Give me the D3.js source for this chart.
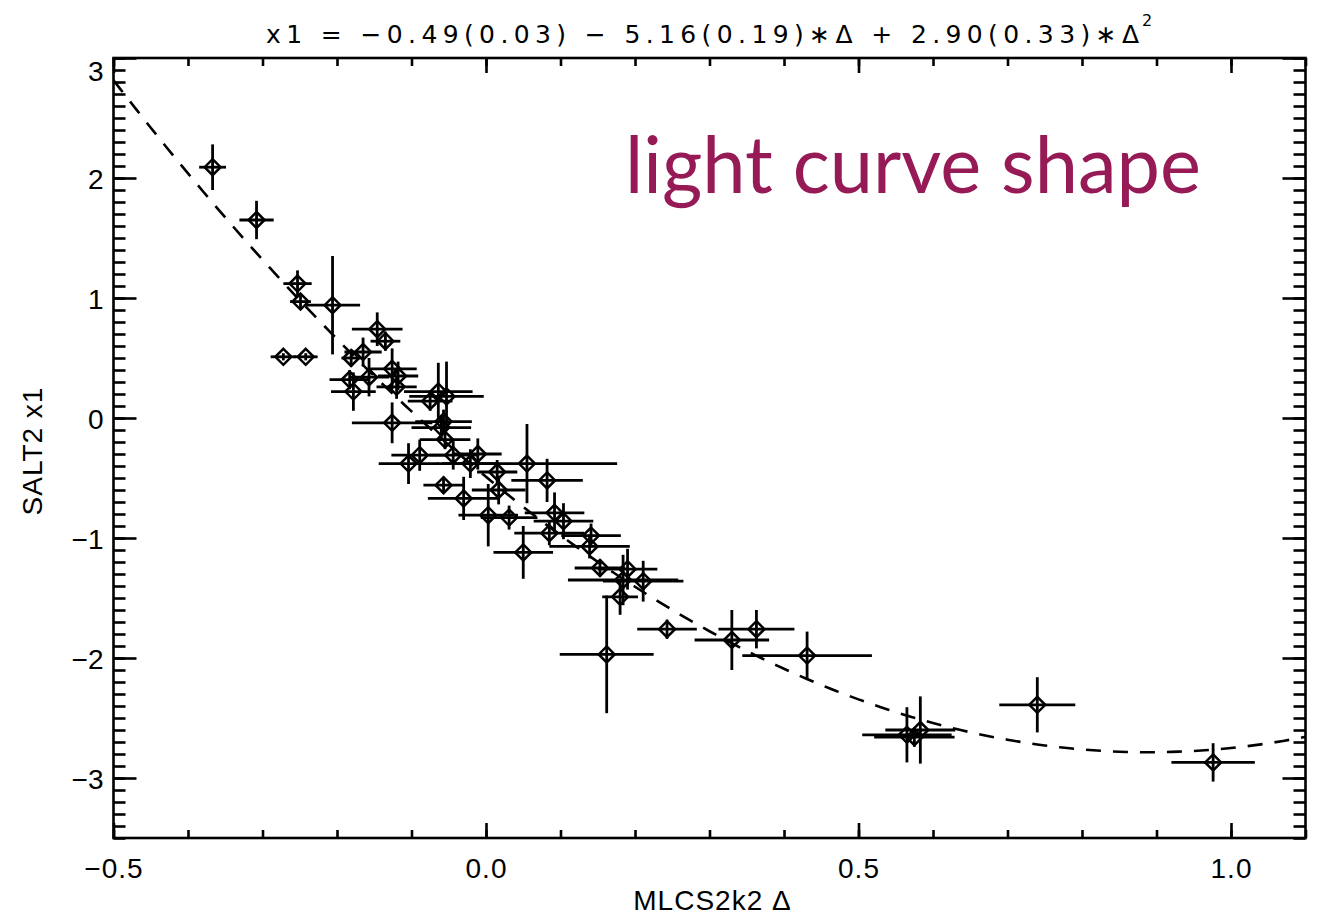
<!DOCTYPE html>
<html lang="en">
<head>
  <meta charset="UTF-8">
  <title>SALT2 x1 vs MLCS2k2 Delta</title>
  <style>
    body { margin: 0; background: #fff; }
    svg { display: block; }
    .frame, .tick line { stroke: #000; stroke-width: 2.6; }
    text { font-family: "Liberation Sans", "DejaVu Sans", sans-serif; fill: #000; }
  </style>
</head>
<body>
  <svg id="chart" width="1325" height="916"></svg>

  <script src="https://d3js.org/d3.v7.min.js"></script>
  <script>
    // MLCS2k2 delta for each SN
    const deltaVals = [
      -0.367, -0.308, -0.253, -0.249, -0.206, -0.272, -0.242, -0.146, -0.135, -0.165,
      -0.181, -0.126, -0.118, -0.157, -0.183, -0.178, -0.120, -0.064, -0.053, -0.075,
      -0.126, -0.057, -0.060, -0.055, -0.044, -0.011, -0.021, -0.089, -0.104, -0.057,
      -0.030, 0.003, 0.015, 0.017, 0.031, 0.055, 0.082, 0.050, 0.092, 0.104,
      0.085, 0.141, 0.139, 0.153, 0.190, 0.184, 0.211, 0.180, 0.243, 0.162,
      0.330, 0.363, 0.431, 0.565, 0.575, 0.583, 0.740, 0.976
    ];
    // SALT2 x1
    const x1Vals = [
      2.09, 1.65, 1.12, 0.97, 0.94, 0.51, 0.51, 0.74, 0.64, 0.55,
      0.50, 0.41, 0.35, 0.34, 0.32, 0.22, 0.26, 0.22, 0.18, 0.14,
      -0.04, -0.03, -0.08, -0.18, -0.31, -0.30, -0.38, -0.31, -0.38, -0.56,
      -0.67, -0.81, -0.45, -0.60, -0.83, -0.38, -0.52, -1.12, -0.79, -0.86,
      -0.96, -0.98, -1.07, -1.25, -1.26, -1.35, -1.36, -1.49, -1.76, -1.97,
      -1.85, -1.76, -1.98, -2.64, -2.66, -2.60, -2.39, -2.87
    ];
    const deltaErr = [
      0.018, 0.023, 0.019, 0.014, 0.037, 0.017, 0.016, 0.034, 0.020, 0.025,
      0.013, 0.033, 0.027, 0.027, 0.027, 0.030, 0.027, 0.046, 0.050, 0.030,
      0.054, 0.038, 0.040, 0.034, 0.032, 0.032, 0.038, 0.038, 0.040, 0.027,
      0.048, 0.040, 0.027, 0.036, 0.038, 0.121, 0.048, 0.040, 0.040, 0.040,
      0.047, 0.040, 0.054, 0.034, 0.040, 0.074, 0.054, 0.024, 0.040, 0.063,
      0.050, 0.051, 0.087, 0.060, 0.054, 0.047, 0.051, 0.056
    ];
    const x1Err = [
      0.19, 0.16, 0.11, 0.07, 0.41, 0.03, 0.03, 0.14, 0.08, 0.12,
      0.07, 0.17, 0.12, 0.16, 0.08, 0.16, 0.10, 0.24, 0.29, 0.08,
      0.17, 0.10, 0.10, 0.08, 0.12, 0.13, 0.12, 0.13, 0.17, 0.07,
      0.18, 0.26, 0.10, 0.12, 0.10, 0.33, 0.18, 0.22, 0.17, 0.15,
      0.10, 0.10, 0.10, 0.07, 0.17, 0.21, 0.17, 0.15, 0.08, 0.49,
      0.25, 0.16, 0.20, 0.23, 0.08, 0.28, 0.23, 0.16
    ];

    // quadratic fit quoted in the title: c0 + c1*D + c2*D^2
    const fitCoef = [-0.49, -5.16, 2.90];

    const xMajor = [-0.5, 0.0, 0.5, 1.0];
    const yMajor = [-3, -2, -1, 0, 1, 2, 3];

    const svg = d3.select("#chart");
    const pLeft = 113.5, pRight = 1305.5, pTop = 58, pBottom = 838;

    const x = d3.scaleLinear().domain([-0.5, 1.1]).range([pLeft, pRight]);
    const y = d3.scaleLinear().domain([-3.5, 3]).range([pBottom, pTop]);

    const minus = s => s.replace("-", "\u2212");

    // ticks, all pointing inward like IDL
    const xMinor = d3.range(-5, 12).map(d => d / 10);
    const yMinor = d3.range(-35, 31).map(d => d / 10);

    function addAxis(axis, tx, ty) {
      const g = svg.append("g").attr("transform", `translate(${tx},${ty})`).call(axis);
      g.select(".domain").remove();
      return g;
    }

    // bottom
    addAxis(d3.axisBottom(x).tickValues(xMinor).tickSizeInner(-8).tickSizeOuter(0).tickFormat(""), 0, pBottom);
    const xb = addAxis(d3.axisBottom(x).tickValues(xMajor).tickSizeInner(-15).tickSizeOuter(0)
      .tickFormat(d => minus(d3.format(".1f")(d))), 0, pBottom);
    xb.selectAll("text").attr("y", 40).attr("dy", null)
      .style("font-size", "28px").style("letter-spacing", "1px");
    // top
    addAxis(d3.axisTop(x).tickValues(xMinor).tickSizeInner(-8).tickSizeOuter(0).tickFormat(""), 0, pTop);
    addAxis(d3.axisTop(x).tickValues(xMajor).tickSizeInner(-15).tickSizeOuter(0).tickFormat(""), 0, pTop);
    // left
    addAxis(d3.axisLeft(y).tickValues(yMinor).tickSizeInner(-12).tickSizeOuter(0).tickFormat(""), pLeft, 0);
    const yl = addAxis(d3.axisLeft(y).tickValues(yMajor).tickSizeInner(-23).tickSizeOuter(0)
      .tickFormat(d => minus(String(d))), pLeft, 0);
    yl.selectAll("text").attr("x", -10).attr("dy", d => d === 3 ? "0.8em" : "0.36em").style("font-size", "28px");
    // right
    addAxis(d3.axisRight(y).tickValues(yMinor).tickSizeInner(-12).tickSizeOuter(0).tickFormat(""), pRight, 0);
    addAxis(d3.axisRight(y).tickValues(yMajor).tickSizeInner(-23).tickSizeOuter(0).tickFormat(""), pRight, 0);

    svg.append("rect").attr("class", "frame")
      .attr("x", pLeft).attr("y", pTop)
      .attr("width", pRight - pLeft).attr("height", pBottom - pTop)
      .attr("fill", "none");

    // clip for the fit curve
    svg.append("clipPath").attr("id", "plotclip")
      .append("rect").attr("x", pLeft).attr("y", pTop).attr("width", pRight - pLeft).attr("height", pBottom - pTop);

    const curveX = d3.range(-0.5, 1.1001, 0.01);
    const fit = d => fitCoef[0] + fitCoef[1] * d + fitCoef[2] * d * d;
    svg.append("path")
      .datum(curveX)
      .attr("clip-path", "url(#plotclip)")
      .attr("fill", "none")
      .attr("stroke", "#000")
      .attr("stroke-width", 2.6)
      .attr("stroke-dasharray", "15,12")
      .attr("d", d3.line().x(d => x(d)).y(d => y(fit(d))));

    // points with error bars
    const pts = deltaVals.map((d, i) => ({ d, v: x1Vals[i], de: deltaErr[i], ve: x1Err[i] }));
    const pg = svg.append("g").attr("stroke", "#000").attr("fill", "none");
    pg.selectAll("line.xe").data(pts).join("line").attr("class", "xe")
      .attr("x1", p => x(p.d - p.de)).attr("x2", p => x(p.d + p.de))
      .attr("y1", p => y(p.v)).attr("y2", p => y(p.v))
      .attr("stroke-width", 2.8);
    pg.selectAll("line.ye").data(pts).join("line").attr("class", "ye")
      .attr("x1", p => x(p.d)).attr("x2", p => x(p.d))
      .attr("y1", p => y(p.v - p.ve)).attr("y2", p => y(p.v + p.ve))
      .attr("stroke-width", 2.8);
    const r = 8;
    pg.selectAll("path.dm").data(pts).join("path").attr("class", "dm")
      .attr("stroke-width", 2.5)
      .attr("d", p => {
        const cx = x(p.d), cy = y(p.v);
        return `M${cx},${cy - r}L${cx + r},${cy}L${cx},${cy + r}L${cx - r},${cy}Z`;
      });

    // title, spread out letter by letter as IDL does
    svg.append("text")
      .attr("x", 266).attr("y", 43)
      .attr("textLength", 873).attr("lengthAdjust", "spacing")
      .style("font-family", "'DejaVu Sans', sans-serif")
      .style("font-size", "25px")
      .text("x1 = \u22120.49(0.03) \u2212 5.16(0.19)\u2217\u0394 + 2.90(0.33)\u2217\u0394");
    svg.append("text")
      .attr("x", 1142).attr("y", 26)
      .style("font-family", "'DejaVu Sans', sans-serif")
      .style("font-size", "16px")
      .text("2");

    // axis titles
    svg.append("text")
      .attr("x", (pLeft + pRight) / 2 + 3).attr("y", 910)
      .attr("text-anchor", "middle")
      .style("font-size", "28px").style("letter-spacing", "1px")
      .text("MLCS2k2 \u0394");
    svg.append("text")
      .attr("transform", `translate(42,451) rotate(-90)`)
      .attr("text-anchor", "middle")
      .style("font-size", "28px").style("letter-spacing", "1px")
      .text("SALT2 x1");

    // annotation
    svg.append("text")
      .attr("x", 625).attr("y", 193)
      .attr("textLength", 576).attr("lengthAdjust", "spacingAndGlyphs")
      .style("font-family", "Lato, 'Open Sans', sans-serif")
      .style("font-size", "80px")
      .style("fill", "#961a55")
      .text("light curve shape");
  </script>
</body>
</html>
